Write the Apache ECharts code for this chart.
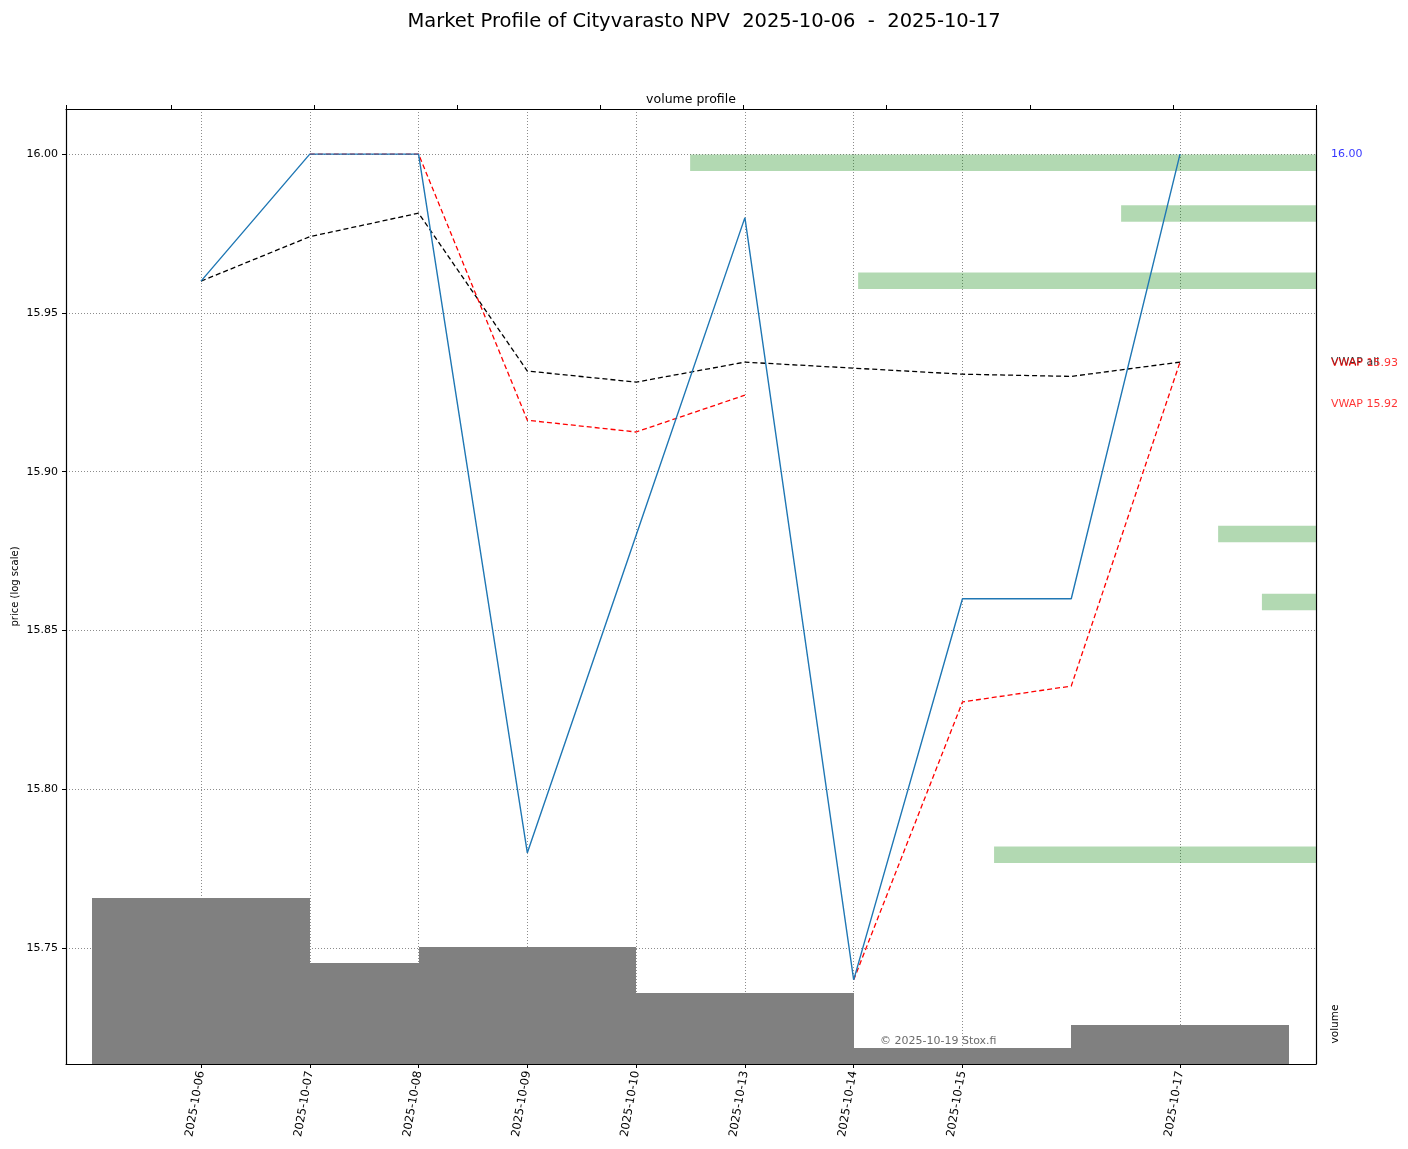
<!DOCTYPE html>
<html>
<head>
<meta charset="utf-8">
<script src="https://cdn.jsdelivr.net/npm/echarts@6/dist/echarts.min.js"></script>
<style>
html,body{margin:0;padding:0;background:#fff;}
#chart{width:1408px;height:1149px;}
</style>
</head>
<body>
<div id="chart"></div>
<script>
// ---- data ----
const dates = ['2025-10-06','2025-10-07','2025-10-08','2025-10-09','2025-10-10','2025-10-13','2025-10-14','2025-10-15','2025-10-16','2025-10-17'];
const labeledIdx = [0,1,2,3,4,5,6,7,9];
const closePrice = [15.96,16.00,16.00,15.78,15.88,15.98,15.74,15.86,15.86,16.00];
const vwapAll = [15.96,15.974,15.9814,15.9317,15.9282,15.9345,15.9326,15.9307,15.930,15.9345];
const vwapPart1Idx = [1,2,3,4,5];
const vwapPart1 = [16.00,16.00,15.9162,15.9125,15.9241];
const vwapPart2Idx = [6,7,8,9];
const vwapPart2 = [15.74,15.8275,15.8325,15.9345];
const dailyVolume = [1660,1010,900,1170,340,710,60,160,60,390];
const profileBinLow = [15.9947,15.9787,15.9575,15.8778,15.8564,15.7768];
const profileVolume = [2187,681,1600,342,189,1125];
const priceTicks = [15.75,15.80,15.85,15.90,15.95,16.00];
const sideLabels = [
  {text:'16.00', price:16.00, color:'#0000ff'},
  {text:'VWAP all', price:15.9345, color:'#000000'},
  {text:'VWAP 15.93', price:15.9342, color:'#ff0000'},
  {text:'VWAP 15.92', price:15.9213, color:'#ff0000'}
];

// ---- layout constants ----
const X_MIN = -1.241, X_MAX = 10.250;
const Y_MIN = 15.7135, Y_MAX = 16.0142;
const BIN_H = 0.0052;
const FONT = 'DejaVu Sans';

const chart = echarts.init(document.getElementById('chart'));
const gridLine = {show:true, lineStyle:{color:'#8c8c8c', type:[1,2], width:1}};

const option = {
  animation:false,
  textStyle:{fontFamily:FONT},
  title:{
    text:'Market Profile of Cityvarasto NPV  2025-10-06  -  2025-10-17',
    left:'center', top:7,
    textStyle:{fontFamily:FONT, fontSize:19.5, fontWeight:'normal', color:'#000'}
  },
  grid:{left:66, right:92, top:109, bottom:85, containLabel:false, outerBoundsMode:'none'},
  xAxis:[
    {
      type:'value', position:'bottom', min:X_MIN, max:X_MAX,
      axisLine:{show:true, onZero:false, lineStyle:{color:'#000', width:1.2}},
      axisTick:{show:true, inside:false, length:4, customValues:labeledIdx, lineStyle:{color:'#000'}},
      axisLabel:{show:true, customValues:labeledIdx, rotate:80, fontSize:11.5, color:'#000', margin:7,
        formatter:(v)=>dates[Math.round(v)] || ''},
      splitLine:gridLine
    },
    {
      type:'value', position:'top', inverse:true, min:0, max:4368, interval:500,
      name:'volume profile', nameLocation:'middle', nameGap:3, nameMoveOverlap:false,
      nameTextStyle:{fontFamily:FONT, fontSize:12.5, color:'#000'},
      axisLine:{show:true, onZero:false, lineStyle:{color:'#000', width:1.2}},
      axisTick:{show:true, inside:false, length:4, lineStyle:{color:'#000'}},
      axisLabel:{show:false},
      splitLine:{show:false}
    }
  ],
  yAxis:[
    {
      type:'value', position:'left', min:Y_MIN, max:Y_MAX,
      name:'price (log scale)', nameLocation:'middle', nameGap:46, nameRotate:90, nameMoveOverlap:false,
      nameTextStyle:{fontFamily:FONT, fontSize:10, color:'#000'},
      axisLine:{show:true, onZero:false, lineStyle:{color:'#000', width:1.2}},
      axisTick:{show:true, inside:false, length:4, customValues:priceTicks, lineStyle:{color:'#000'}},
      axisLabel:{show:true, customValues:priceTicks, fontSize:11, color:'#000', margin:8,
        formatter:(v)=>v.toFixed(2)},
      splitLine:gridLine
    },
    {
      type:'value', position:'right', min:0, max:9550,
      axisLine:{show:true, onZero:false, lineStyle:{color:'#000', width:1.2}},
      axisTick:{show:false}, axisLabel:{show:false}, splitLine:{show:false}
    }
  ],
  graphic:[
    {type:'text', x:1335, y:1024, rotation:Math.PI/2,
      style:{text:'volume', fontFamily:FONT, fontSize:10.5, fill:'#000', align:'center', verticalAlign:'middle'}},
    {type:'text', x:880, y:1041,
      style:{text:'© 2025-10-19 Stox.fi', fontFamily:FONT, fontSize:11, fill:'#6b6b6b', align:'left', verticalAlign:'middle'}, z:100}
  ],
  series:[
    {
      name:'volume', type:'custom', xAxisIndex:0, yAxisIndex:1, z:1,
      data:dailyVolume.map((v,i)=>[i,v]),
      renderItem:(params, api)=>{
        const i = api.value(0), v = api.value(1);
        const p0 = api.coord([i-1, v]);
        const p1 = api.coord([i+1, 0]);
        const x0 = Math.round(p0[0]), x1 = Math.round(p1[0]);
        const y0 = Math.round(p0[1]), y1 = Math.round(p1[1]);
        return {type:'rect', shape:{x:x0, y:y0, width:x1-x0, height:y1-y0},
          style:{fill:'#808080'}};
      }
    },
    {
      name:'profile', type:'custom', xAxisIndex:1, yAxisIndex:0, z:2,
      data:profileVolume.map((v,i)=>[v, profileBinLow[i]]),
      renderItem:(params, api)=>{
        const v = api.value(0), lo = api.value(1);
        const a = api.coord([v, lo + BIN_H]);
        const b = api.coord([0, lo]);
        const x = Math.min(a[0], b[0]);
        return {type:'rect', shape:{x:x, y:a[1], width:Math.abs(b[0]-a[0]), height:b[1]-a[1]},
          style:{fill:'rgba(0,128,0,0.3)'}};
      }
    },
    {
      name:'close', type:'line', xAxisIndex:0, yAxisIndex:0, z:5,
      data:closePrice.map((v,i)=>[i,v]), showSymbol:false, symbol:'none',
      lineStyle:{color:'#1f77b4', width:1.4}
    },
    {
      name:'vwap all', type:'line', xAxisIndex:0, yAxisIndex:0, z:4,
      data:vwapAll.map((v,i)=>[i,v]), symbol:'none',
      lineStyle:{color:'#000', width:1.3, type:[5,3]}
    },
    {
      name:'vwap1', type:'line', xAxisIndex:0, yAxisIndex:0, z:4,
      data:vwapPart1.map((v,k)=>[vwapPart1Idx[k],v]), symbol:'none',
      lineStyle:{color:'#ff0000', width:1.3, type:[5,3]}
    },
    {
      name:'vwap2', type:'line', xAxisIndex:0, yAxisIndex:0, z:4,
      data:vwapPart2.map((v,k)=>[vwapPart2Idx[k],v]), symbol:'none',
      lineStyle:{color:'#ff0000', width:1.3, type:[5,3]}
    },
    {
      name:'labels', type:'scatter', xAxisIndex:0, yAxisIndex:0, z:6, clip:false,
      symbolSize:0, silent:true,
      data:sideLabels.map(s=>({value:[X_MAX, s.price],
        label:{show:true, position:'right', distance:15, formatter:s.text, color:s.color,
          fontFamily:FONT, fontSize:11}}))
    }
  ]
};
chart.setOption(option);
</script>
</body>
</html>
